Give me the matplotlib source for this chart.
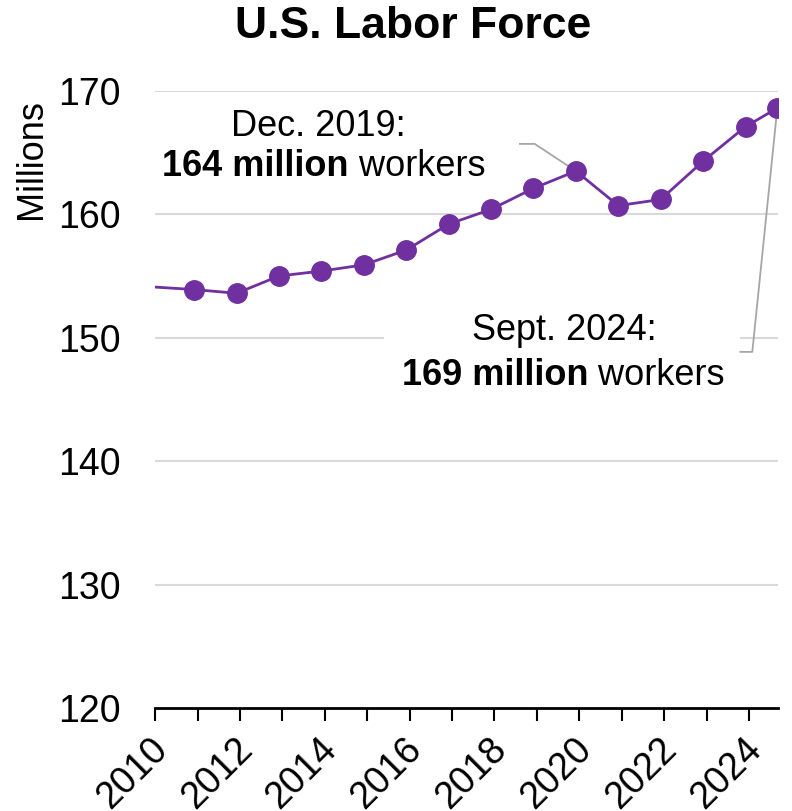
import matplotlib.pyplot as plt
from matplotlib.patches import Rectangle
import matplotlib.transforms as mtransforms

plt.rcParams['font.family'] = ['Liberation Sans', 'DejaVu Sans']

# labor force, millions: Jan 2010, then each December, then Sept 2024
dates = [2010.0, 2010.92, 2011.92, 2012.92, 2013.92, 2014.92, 2015.92, 2016.92,
         2017.92, 2018.92, 2019.92, 2020.92, 2021.92, 2022.92, 2023.92, 2024.67]
labor = [154.1, 153.9, 153.6, 155.0, 155.4, 155.9, 157.1, 159.2,
         160.4, 162.1, 163.5, 160.7, 161.2, 164.3, 167.1, 168.6]
yticks = [120, 130, 140, 150, 160, 170]
xticks = list(range(2010, 2025, 2))

purple = '#7030a0'
gray = '#a6a6a6'
fs = 27
afs = 26

fig = plt.figure(figsize=(7.92, 8.11), dpi=100)
ax = fig.add_axes([0.196, 0.127, 0.786, 0.761])

for y in yticks[1:]:
    ax.axhline(y, color='#d9d9d9', lw=1.5, zorder=1)

ax.plot(dates, labor, color=purple, lw=2, zorder=3)
ax.plot(dates[1:], labor[1:], 'o', color=purple, ms=14, zorder=4)

ax.set_xlim(2010, 2024.68)
ax.set_ylim(120, 170)
ax.set_yticks(yticks)
ax.set_xticks(range(2010, 2025))
ax.set_xticklabels([str(x) if x in xticks else '' for x in range(2010, 2025)],
                   rotation=45, ha='right', va='top', rotation_mode='anchor')
ax.tick_params(axis='x', length=9, width=1.5, labelsize=fs, pad=8)
ax.tick_params(axis='y', length=0, labelsize=fs, pad=25)
shift = mtransforms.ScaledTranslation(-6 / 100, 0, fig.dpi_scale_trans)
for lab in ax.get_xticklabels():
    lab.set_transform(lab.get_transform() + shift)
for s in ['top', 'right', 'left']:
    ax.spines[s].set_visible(False)
ax.spines['bottom'].set_linewidth(2)
ax.spines['bottom'].set_zorder(5)

fig.text(0.521, 0.967, 'U.S. Labor Force', fontsize=32, fontweight='bold', ha='center', va='center')
fig.text(0.040, 0.878, 'Millions', rotation=90, fontsize=26, ha='center', va='top')

# callout leader lines
i19 = 10
ax.plot([2018.6, 2018.95, dates[i19]], [165.7, 165.7, labor[i19]], color=gray, lw=1.3, zorder=2)
ax.plot([2023.8, 2024.08, dates[-1]], [148.85, 148.85, labor[-1]], color=gray, lw=1.3, zorder=2)

# white patch behind the Sept. 2024 callout
ax.add_patch(Rectangle((2015.4, 145.3), 8.4, 6.8, fc='white', ec='none', zorder=1.5))

renderer = fig.canvas.get_renderer()


def mixed(xc, y, bold, rest):
    # bold lead-in followed by regular text, centred on xc
    tb = ax.text(0, y, bold, fontsize=afs, fontweight='bold', va='center', zorder=6)
    tr = ax.text(0, y, ' ' + rest, fontsize=afs, va='center', zorder=6)
    wb = tb.get_window_extent(renderer).width
    wr = tr.get_window_extent(renderer).width
    x0 = ax.transData.transform((xc, y))[0] - (wb + wr) / 2
    inv = ax.transData.inverted()
    tb.set_x(inv.transform((x0, 0))[0])
    tr.set_x(inv.transform((x0 + wb, 0))[0])


ax.text(2013.85, 167.1, 'Dec. 2019:', fontsize=afs, ha='center', va='center', zorder=6)
mixed(2013.97, 163.9, '164 million', 'workers')
ax.text(2019.64, 150.6, 'Sept. 2024:', fontsize=afs, ha='center', va='center', zorder=6)
mixed(2019.62, 146.9, '169 million', 'workers')

plt.savefig('out.png', dpi=100)
